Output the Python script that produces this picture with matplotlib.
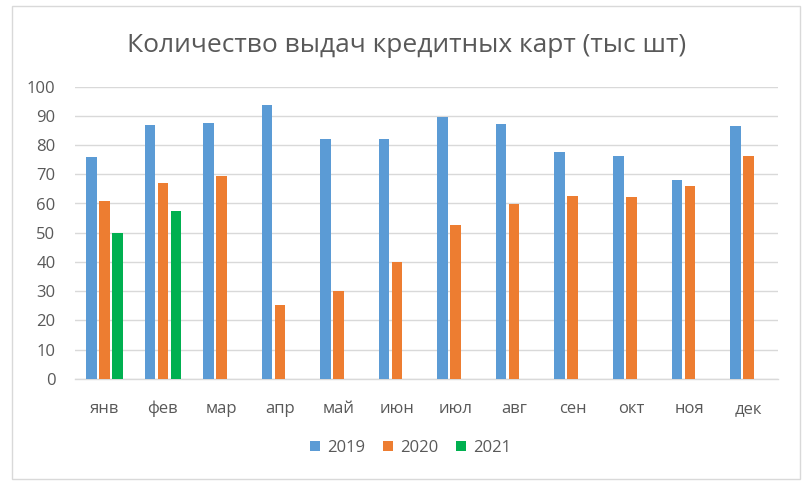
import matplotlib
matplotlib.use("Agg")
import matplotlib.pyplot as plt
from matplotlib.patches import Rectangle
import numpy as np

months = ["янв", "фев", "мар", "апр", "май", "июн", "июл", "авг", "сен", "окт", "ноя", "дек"]
s2019 = [76, 87, 87.6, 93.7, 82.1, 82.1, 89.6, 87.2, 77.6, 76.3, 68.0, 86.5]
s2020 = [61, 67, 69.4, 25.2, 30.0, 40.0, 52.6, 59.8, 62.6, 62.2, 66.0, 76.3]
s2021 = [50, 57.4, None, None, None, None, None, None, None, None, None, None]
series_names = ["2019", "2020", "2021"]
colors = ["#5B9BD5", "#ED7D31", "#00B050"]
title = "Количество выдач кредитных карт (тыс шт)"

plt.rcParams['font.family'] = ['Open Sans', 'DejaVu Sans']
W, H = 809, 490
fig = plt.figure(figsize=(W / 100, H / 100), dpi=100)
ax = fig.add_axes([75 / W, (H - 378.7) / H, (777.7 - 75) / W, (378.7 - 86.7) / H])

x = np.arange(len(months))
bw = 0.18
step = 0.222
for i, (vals, name, c) in enumerate(zip([s2019, s2020, s2021], series_names, colors)):
    xs = [xi + (i - 1) * step for xi, v in zip(x, vals) if v is not None]
    vs = [v for v in vals if v is not None]
    ax.bar(xs, vs, width=bw, color=c, label=name, zorder=3)

ax.set_xlim(-0.5, len(months) - 0.5)
ax.set_ylim(0, 100)
ax.set_yticks(np.arange(0, 101, 10))
ax.set_xticks(x)
ax.set_xticklabels(months)
ax.grid(axis='y', color='#D9D9D9', linewidth=1.0, zorder=0)
for s in ['top', 'right', 'left']:
    ax.spines[s].set_visible(False)
ax.spines['bottom'].set_color('#D9D9D9')
ax.spines['bottom'].set_linewidth(1.0)
ax.tick_params(axis='both', length=0, colors='#595959', labelsize=12)
ax.tick_params(axis='y', pad=14)
ax.tick_params(axis='x', pad=16)

fig.text(406.5 / W, 1 - 45 / H, title, ha='center', va='center', fontsize=19, color='#595959')

fig.legend(loc='center', bbox_to_anchor=(410.5 / W, 1 - 448 / H), ncol=3, frameon=False,
           fontsize=12, handlelength=0.6, handleheight=0.6, handletextpad=0.4,
           columnspacing=1.1, labelcolor='#595959')

fig.patches.append(Rectangle((12 / W, 1 - 479 / H), (800 - 12) / W, (479 - 6.5) / H,
                             transform=fig.transFigure, fill=False, edgecolor='#D9D9D9', linewidth=1.0))

fig.savefig("out.png", dpi=100, facecolor='white')
